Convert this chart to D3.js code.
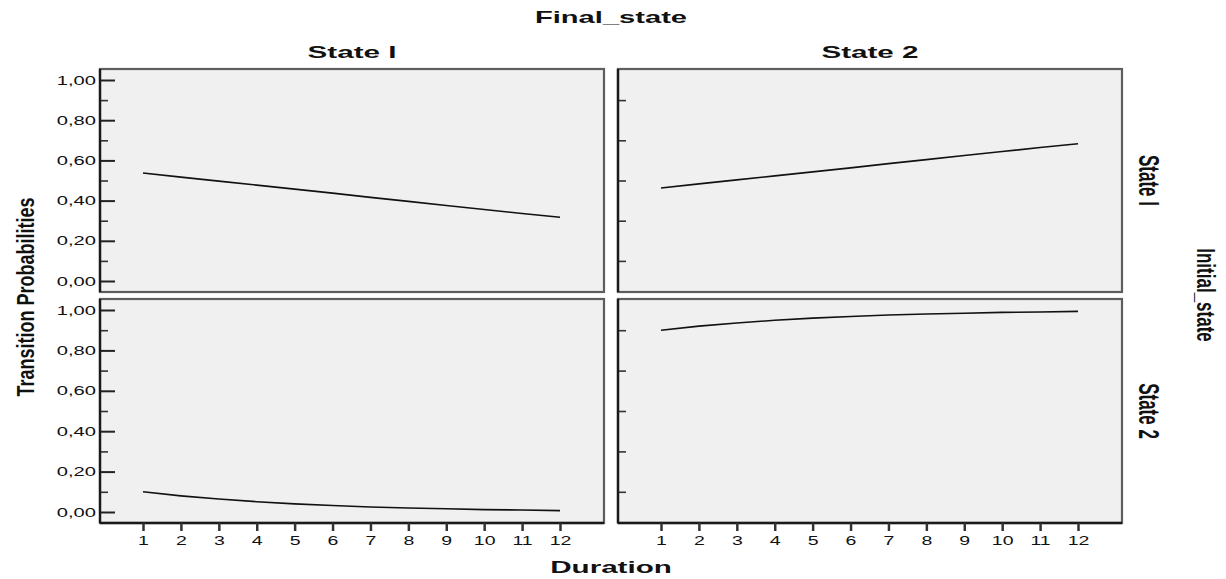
<!DOCTYPE html>
<html><head><meta charset="utf-8">
<script src="https://cdn.jsdelivr.net/npm/d3@7"></script>
<style>body{margin:0;background:#fff}svg{display:block}text{font-family:"Liberation Sans",Arial,sans-serif;fill:#111}</style>
</head><body><svg id="c" width="1226" height="579"></svg>
<script>
// ---- data ----
const durations = [1,2,3,4,5,6,7,8,9,10,11,12];
const finalStates = ["State I","State 2"];
const initialStates = ["State I","State 2"];
const yMajorTicks = [0,0.2,0.4,0.6,0.8,1.0];
const yMinorTicks = [0.1,0.3,0.5,0.7,0.9];
const state1ToState1 = [0.537,0.517,0.497,0.477,0.457,0.437,0.416,0.396,0.376,0.356,0.336,0.317];
const state1ToState2 = [0.463,0.483,0.503,0.523,0.543,0.563,0.584,0.604,0.624,0.644,0.664,0.683];
const state2ToState1 = [0.100,0.080,0.064,0.051,0.040,0.032,0.025,0.020,0.016,0.012,0.010,0.007];
const state2ToState2 = [0.900,0.920,0.936,0.949,0.960,0.968,0.975,0.980,0.984,0.988,0.990,0.993];
const panelSeries = [[state1ToState1,state1ToState2],[state2ToState1,state2ToState2]];

// ---- layout ----
const svg = d3.select("#c");
const colX = [[100,604],[618,1122]];
const rowY = [[69,292],[299,523]];
const fmt = v => d3.format(".2f")(v).replace(".", ",");

function stretchedText(g, x, y, str, size, weight, sx, rot, anchor) {
  return g.append("text")
    .attr("transform", `translate(${x},${y}) scale(${sx},1)` + (rot ? ` rotate(${rot})` : ""))
    .attr("text-anchor", anchor || "middle")
    .style("font-size", size + "px")
    .style("font-weight", weight)
    .text(str);
}

initialStates.forEach((rs, r) => {
  finalStates.forEach((cs, c) => {
    const [x0,x1] = colX[c], [y0,y1] = rowY[r];
    const x = d3.scaleLinear().domain([1,12]).range([x0+43, x1-44]);
    const y = d3.scaleLinear().domain([0,1]).range([y1-11, y0+11]);
    const g = svg.append("g");
    g.append("rect").attr("x",x0).attr("y",y0).attr("width",x1-x0).attr("height",y1-y0)
      .attr("fill","#f0f0f0").attr("stroke","#5e5e5e").attr("stroke-width",2.2);
    const minor = g.append("g").attr("transform",`translate(${x0},0)`)
      .call(d3.axisLeft(y).tickValues(yMinorTicks).tickSize(-8).tickFormat(""));
    minor.select(".domain").remove();
    minor.selectAll("line").attr("stroke","#333").attr("stroke-width",1.6);
    if (c === 0) {
      const major = g.append("g").attr("transform",`translate(${x0},0)`)
        .call(d3.axisLeft(y).tickValues(yMajorTicks).tickSize(-15).tickPadding(4).tickFormat(fmt));
      major.select(".domain").remove();
      major.selectAll("line").attr("stroke","#222").attr("stroke-width",2);
      major.selectAll("text").attr("x",null).attr("fill","#222")
        .attr("transform","translate(-4,0) scale(1.55,1)")
        .style("font-size","13px");
    }
    g.append("line").attr("x1",x0).attr("x2",x0).attr("y1",y0).attr("y2",y1)
      .attr("stroke","#1a1a1a").attr("stroke-width",2.4);
    if (r === 1) {
      g.append("line").attr("x1",x0).attr("x2",x1).attr("y1",y1).attr("y2",y1)
        .attr("stroke","#1a1a1a").attr("stroke-width",2.4);
      const xa = g.append("g").attr("transform",`translate(0,${y1})`)
        .call(d3.axisBottom(x).tickValues(durations).tickSize(8).tickPadding(5).tickFormat(d3.format("d")));
      xa.select(".domain").remove();
      xa.selectAll("line").attr("stroke","#333").attr("stroke-width",2.5);
      xa.selectAll("text").attr("fill","#222").style("font-size","13px")
        .attr("transform","scale(1.5,1)");
    }
    const line = d3.line().x((d,i) => x(durations[i])).y(d => y(d));
    g.append("path").datum(panelSeries[r][c]).attr("d", line)
      .attr("fill","none").attr("stroke","#111").attr("stroke-width",1.6);
    if (r === 0) stretchedText(svg, (x0+x1)/2, 58, cs, 16, "bold", 1.85);
    if (c === 1) stretchedText(svg, 1139, (y0+y1)/2, rs, 17, "bold", 1.75, 90);
  });
});

stretchedText(svg, 611, 23, "Final_state", 16, "bold", 1.82);
stretchedText(svg, 611, 573, "Duration", 16, "bold", 1.85);
stretchedText(svg, 34, 297, "Transition Probabilities", 18, "bold", 1.3, -90);
stretchedText(svg, 1197, 295, "Initial_state", 17, "bold", 1.5, 90);
</script></body></html>
